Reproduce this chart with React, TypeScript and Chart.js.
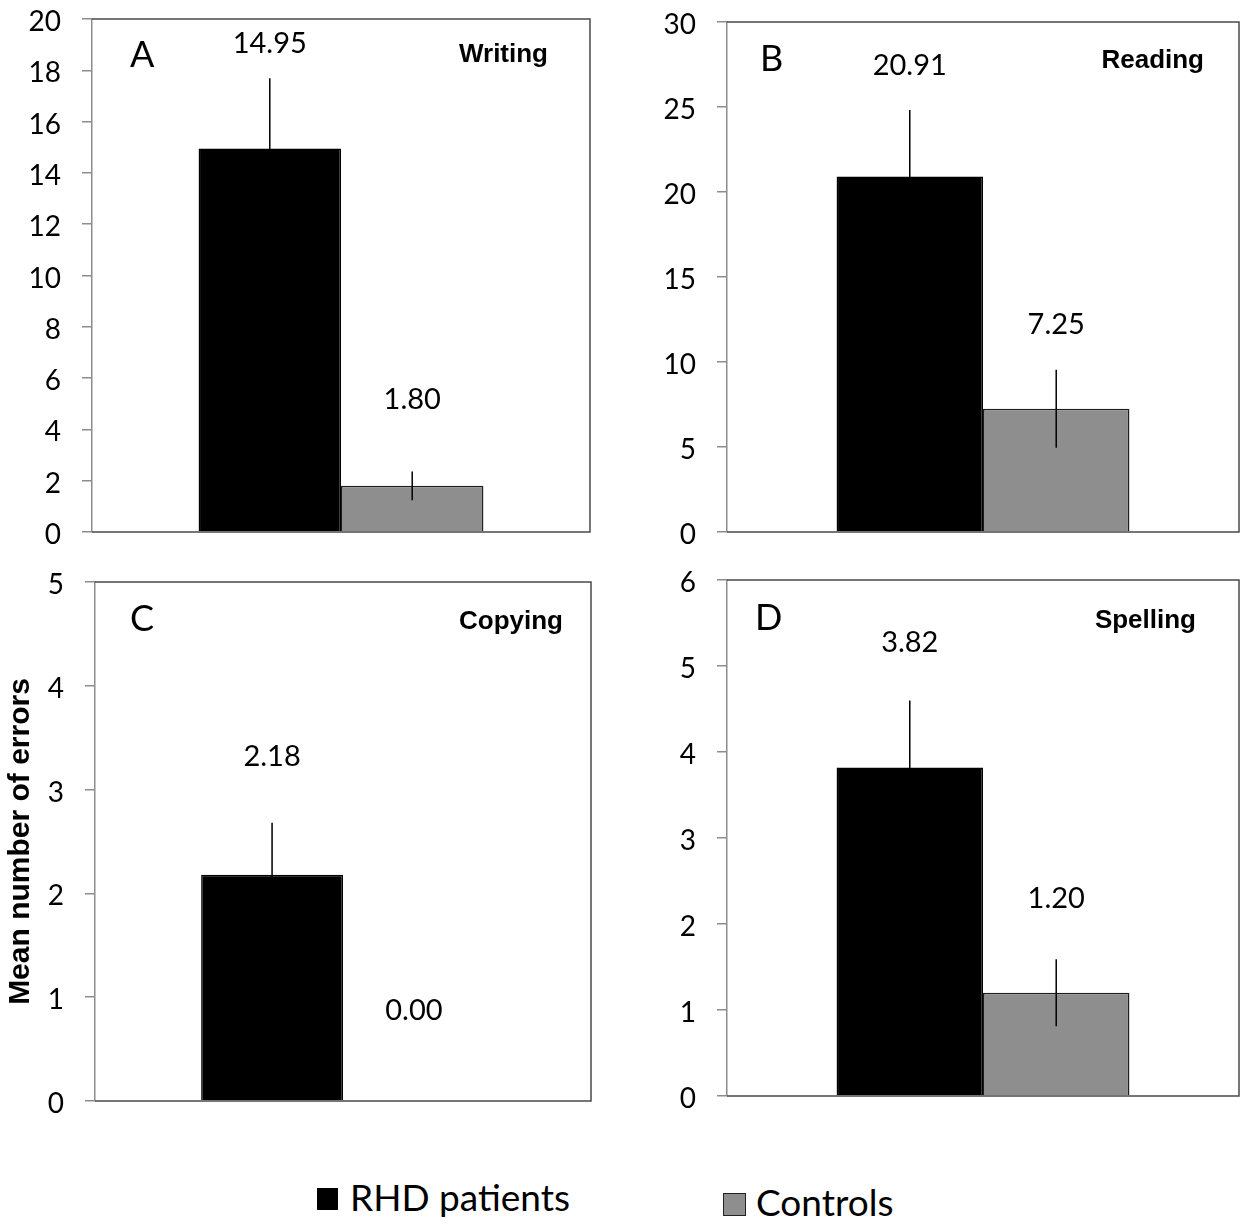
import React, { useEffect, useRef } from 'react';
import { Chart, registerables } from 'chart.js';

Chart.register(...registerables);

// ---------- data ----------
const groups = ['RHD patients', 'Controls'];
const panelLetters = ['A', 'B', 'C', 'D'];
const tasks = ['Writing', 'Reading', 'Copying', 'Spelling'];
const rhdMeans = [14.95, 20.91, 2.18, 3.82];
const controlMeans = [1.8, 7.25, 0.0, 1.2];
const rhdErrors = [2.74, 3.92, 0.5, 0.78];
const controlErrors = [0.56, 2.3, 0.0, 0.39];
const yMax = [20, 30, 5, 6];
const yStep = [2, 5, 1, 1];
const yTitles = ['', '', 'Mean number of errors', ''];
// heights (axis units) where the value labels sit
const rhdLabelAt = [18.67, 26.9, 3.23, 5.16];
const controlLabelAt = [4.8, 11.65, 0.78, 2.19];

// ---------- styles / layout ----------
const groupColors = ['#000000', '#8e8e8e'];
const groupBorders = ['#000000', '#1e1e1e'];
const CANVAS_W = 620;
const CANVAS_H = 560;
const panelLayout = [
  { x: 0, y: 0, left: 92, top: 19, right: 590, bottom: 532, letterDx: 38, letterDy: 48, taskDx: 42, taskDy: 43 },
  { x: 620, y: 0, left: 107, top: 22, right: 619, bottom: 532, letterDx: 33, letterDy: 49, taskDx: 35, taskDy: 46 },
  { x: 0, y: 560, left: 95, top: 22, right: 591, bottom: 541, letterDx: 35, letterDy: 49, taskDx: 28, taskDy: 47 },
  { x: 620, y: 560, left: 107, top: 20, right: 619, bottom: 536, letterDx: 28, letterDy: 50, taskDx: 43, taskDy: 48 },
];

const annotPlugin = {
  id: 'annot',
  afterDatasetsDraw(chart: any, _args: any, opts: any) {
    const { ctx, chartArea: ca } = chart;
    const y = chart.scales.y;
    ctx.save();
    // error bars
    chart.data.datasets.forEach((ds: any, di: number) => {
      const meta = chart.getDatasetMeta(di);
      meta.data.forEach((bar: any, i: number) => {
        const v = ds.data[i];
        const e = opts.errors[di][i];
        if (e > 0) {
          ctx.beginPath();
          ctx.strokeStyle = '#000';
          ctx.lineWidth = 1.5;
          ctx.moveTo(bar.x, y.getPixelForValue(v - e));
          ctx.lineTo(bar.x, y.getPixelForValue(v + e));
          ctx.stroke();
        }
      });
    });
    // plot box (top, right, bottom)
    ctx.beginPath();
    ctx.strokeStyle = '#4a4a4a';
    ctx.lineWidth = 1.5;
    ctx.moveTo(ca.left, ca.top);
    ctx.lineTo(ca.right, ca.top);
    ctx.lineTo(ca.right, ca.bottom);
    ctx.lineTo(ca.left, ca.bottom);
    ctx.stroke();
    // value labels
    ctx.fillStyle = '#000';
    ctx.font = '29px Lato';
    ctx.textAlign = 'center';
    ctx.textBaseline = 'alphabetic';
    chart.data.datasets.forEach((ds: any, di: number) => {
      const meta = chart.getDatasetMeta(di);
      meta.data.forEach((bar: any, i: number) => {
        const v = ds.data[i];
        ctx.fillText(v.toFixed(2), bar.x, y.getPixelForValue(opts.labelAt[di][i]));
      });
    });
    // panel letter
    ctx.font = '36px Lato';
    ctx.textAlign = 'left';
    ctx.fillText(opts.letter, ca.left + opts.letterDx, ca.top + opts.letterDy);
    // task name
    ctx.font = 'bold 26px "Liberation Sans", Arial, sans-serif';
    ctx.textAlign = 'right';
    ctx.fillText(opts.task, ca.right - opts.taskDx, ca.top + opts.taskDy);
    ctx.restore();
  },
};

function Panel({ idx }: { idx: number }) {
  const ref = useRef<HTMLCanvasElement | null>(null);
  const L = panelLayout[idx];
  useEffect(() => {
    if (!ref.current) return;
    const chart = new Chart(ref.current, {
      type: 'bar',
      data: {
        labels: [tasks[idx]],
        datasets: [
          {
            label: groups[0],
            data: [rhdMeans[idx]],
            backgroundColor: groupColors[0],
            borderColor: groupBorders[0],
            borderWidth: 1.5,
            categoryPercentage: 0.572,
            barPercentage: 1.0,
          },
          {
            label: groups[1],
            data: [controlMeans[idx]],
            backgroundColor: groupColors[1],
            borderColor: groupBorders[1],
            borderWidth: 1.5,
            categoryPercentage: 0.572,
            barPercentage: 1.0,
          },
        ],
      },
      options: {
        responsive: false,
        animation: false,
        events: [],
        layout: {
          padding: { left: 0, top: L.top, right: CANVAS_W - L.right, bottom: CANVAS_H - L.bottom },
        },
        scales: {
          x: { display: false, offset: true },
          y: {
            min: 0,
            max: yMax[idx],
            afterFit: (s: any) => {
              s.width = L.left;
              s.paddingTop = 0;
              s.paddingBottom = 0;
            },
            ticks: {
              stepSize: yStep[idx],
              color: '#000',
              font: { family: 'Lato', size: 28 },
              padding: 21,
              labelOffset: 3,
            },
            grid: {
              drawOnChartArea: false,
              drawTicks: true,
              tickLength: 10,
              color: '#8c8c8c',
              lineWidth: 1.5,
            },
            border: { display: true, color: '#8c8c8c', width: 1.5 },
            title: {
              display: yTitles[idx] !== '',
              text: yTitles[idx],
              color: '#000',
              font: { family: '"Liberation Sans", Arial, sans-serif', size: 30, weight: 'bold' },
              padding: { top: 3, bottom: 0 },
            },
          },
        },
        plugins: {
          legend: { display: false },
          tooltip: { enabled: false },
          annot: {
            errors: [[rhdErrors[idx]], [controlErrors[idx]]],
            labelAt: [[rhdLabelAt[idx]], [controlLabelAt[idx]]],
            letter: panelLetters[idx],
            task: tasks[idx],
            letterDx: L.letterDx,
            letterDy: L.letterDy,
            taskDx: L.taskDx,
            taskDy: L.taskDy,
          },
        } as any,
      },
      plugins: [annotPlugin],
    } as any);
    return () => chart.destroy();
  }, [idx]);
  return (
    <canvas
      ref={ref}
      width={CANVAS_W}
      height={CANVAS_H}
      style={{ position: 'absolute', left: L.x, top: L.y, width: CANVAS_W, height: CANVAS_H }}
    />
  );
}

export default function App() {
  return (
    <div
      style={{
        position: 'absolute',
        left: 0,
        top: 0,
        width: 1240,
        height: 1224,
        overflow: 'hidden',
        background: '#fff',
      }}
    >
      {[0, 1, 2, 3].map((i) => (
        <Panel key={i} idx={i} />
      ))}
      <div style={{ position: 'absolute', left: 317, top: 1188, width: 21, height: 22, background: groupColors[0] }} />
      <div
        style={{
          position: 'absolute',
          left: 350,
          top: 1178,
          font: '37px Lato',
          lineHeight: '37px',
          whiteSpace: 'nowrap',
          color: '#000',
        }}
      >
        {groups[0]}
      </div>
      <div
        style={{
          position: 'absolute',
          left: 723,
          top: 1193,
          width: 21,
          height: 21,
          background: groupColors[1],
          border: '1px solid #222',
        }}
      />
      <div
        style={{
          position: 'absolute',
          left: 756,
          top: 1183,
          font: '37px Lato',
          lineHeight: '37px',
          whiteSpace: 'nowrap',
          color: '#000',
        }}
      >
        {groups[1]}
      </div>
    </div>
  );
}
